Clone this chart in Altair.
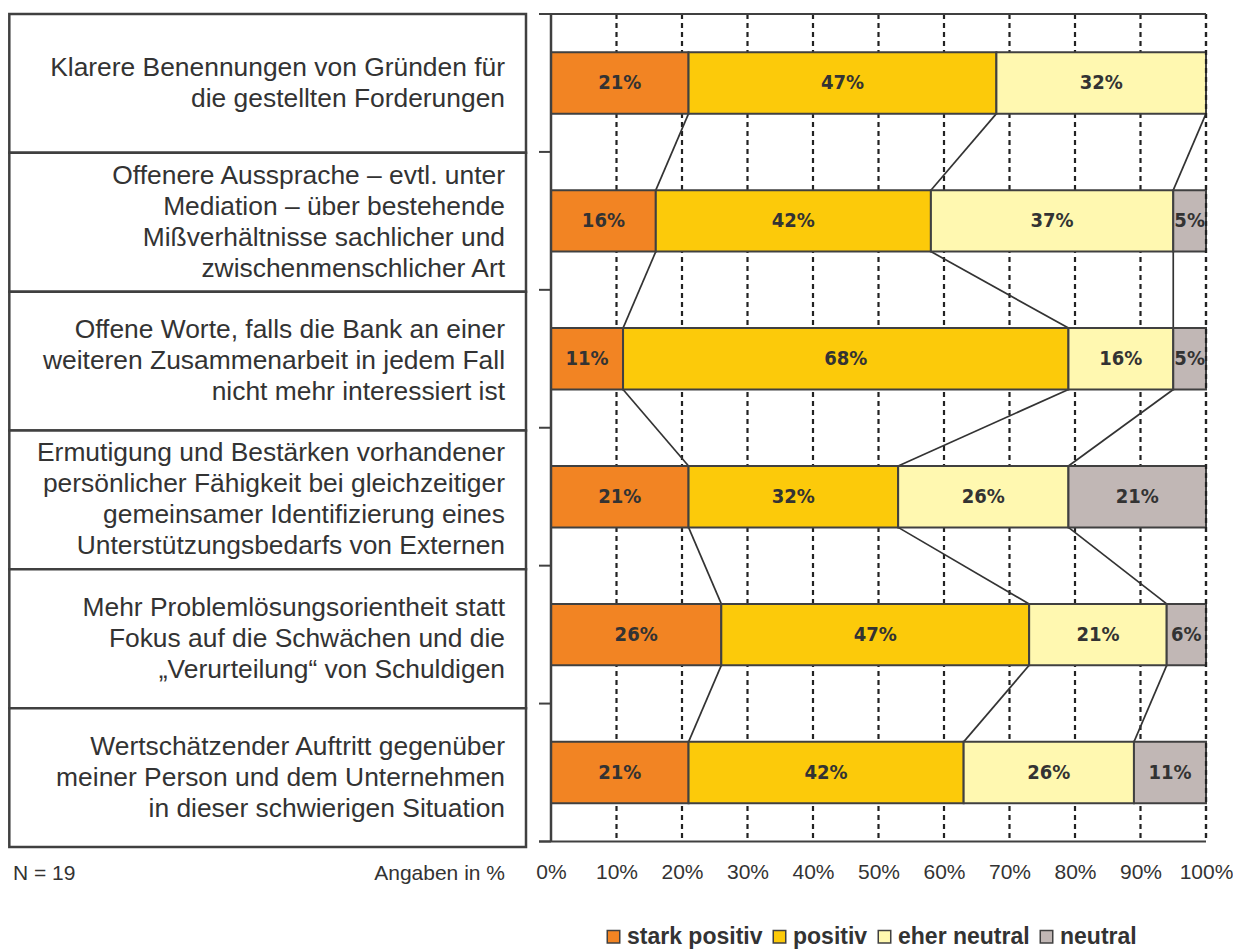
import altair as alt
import pandas as pd

# ---------------- data ----------------
categories = [
    "Klarere Benennungen von Gründen für\ndie gestellten Forderungen",
    "Offenere Aussprache – evtl. unter\nMediation – über bestehende\nMißverhältnisse sachlicher und\nzwischenmenschlicher Art",
    "Offene Worte, falls die Bank an einer\nweiteren Zusammenarbeit in jedem Fall\nnicht mehr interessiert ist",
    "Ermutigung und Bestärken vorhandener\npersönlicher Fähigkeit bei gleichzeitiger\ngemeinsamer Identifizierung eines\nUnterstützungsbedarfs von Externen",
    "Mehr Problemlösungsorientheit statt\nFokus auf die Schwächen und die\n„Verurteilung“ von Schuldigen",
    "Wertschätzender Auftritt gegenüber\nmeiner Person und dem Unternehmen\nin dieser schwierigen Situation",
]
series = ["stark positiv", "positiv", "eher neutral", "neutral"]
stark_positiv = [21, 16, 11, 21, 26, 21]
positiv = [47, 42, 68, 32, 47, 42]
eher_neutral = [32, 37, 16, 26, 21, 26]
neutral = [0, 5, 5, 21, 6, 11]
colors = ["#F28423", "#FCCA0A", "#FFF8B0", "#C1B7B5"]
x_ticks = [0, 10, 20, 30, 40, 50, 60, 70, 80, 90, 100]
note_left = "N = 19"
note_right = "Angaben in %"

# ---------------- layout constants ----------------
PX = 6.55                     # pixels per percent
BAND_PX = 137.9               # pixels per row band
X0_PX = 551 - 8               # pixel offset of 0% from plot left
X_MIN = -X0_PX / PX
BAR_H = 0.445
ROW_SCALE = 6.04 / 6
TICK_LEN = 12 / PX
BOX_L = X_MIN + 0.2
BOX_R = (526 - 551) / PX
TXT_X = (505 - 551) / PX
NOTE_Y = (873 - 12.7) / BAND_PX
N_X = (13 - 551) / PX
LABEL_FS = 26.4
LABEL_LH = 31

DARK = "#404040"
TXT = "#333333"
FONT = "Liberation Sans"
NARROW = "Liberation Sans Narrow, Arial Narrow, DejaVu Sans Condensed, Liberation Sans"

all_vals = [stark_positiv, positiv, eher_neutral, neutral]

# bars
bar_rows = []
for i in range(len(categories)):
    start = 0
    for s, vals in zip(series, all_vals):
        v = vals[i]
        if v > 0:
            bar_rows.append(dict(series=s, x=start, x2=start + v, mid=start + v / 2,
                                 y=i + 0.5 - BAR_H / 2, y2=i + 0.5 + BAR_H / 2,
                                 ym=i + 0.5, label=f"{v}%"))
        start += v
bars_df = pd.DataFrame(bar_rows)

# connectors
conn_rows = []
for i in range(len(categories) - 1):
    c1 = c2 = 0
    for k in range(3):
        c1 += all_vals[k][i]
        c2 += all_vals[k][i + 1]
        conn_rows.append(dict(x=c1, x2=c2, y=i + 0.5 + BAR_H / 2, y2=i + 1.5 - BAR_H / 2))
conn_df = pd.DataFrame(conn_rows)

# label boxes
box_rows = []
for i, c in enumerate(categories):
    n = c.count("\n") + 1
    box_rows.append(dict(x=BOX_L, x2=BOX_R, y=i * ROW_SCALE, y2=(i + 1) * ROW_SCALE,
                         ym=(i + 0.5) * ROW_SCALE - (n - 1) / 2 * LABEL_LH / BAND_PX,
                         tx=TXT_X, label=c))
box_df = pd.DataFrame(box_rows)

grid_df = pd.DataFrame([dict(x=t, y=0, y2=6) for t in x_ticks[1:]])
tick_df = pd.DataFrame([dict(x=-TICK_LEN, x2=0, y=b) for b in range(7)])
frame_df = pd.DataFrame([dict(x=-TICK_LEN, x2=100, y=0), dict(x=-TICK_LEN, x2=100, y=6)])
axisline_df = pd.DataFrame([dict(x=0, y=0, y2=6)])
note_l_df = pd.DataFrame([dict(x=N_X, y=NOTE_Y, t=note_left)])
note_r_df = pd.DataFrame([dict(x=TXT_X, y=NOTE_Y, t=note_right)])

XS = alt.Scale(domain=[X_MIN, 100], nice=False, zero=False)
YS = alt.Scale(domain=[0, 6.04], nice=False, zero=False, reverse=True)
XAX = alt.Axis(values=x_ticks, labelExpr="datum.value + '%'", domain=False, ticks=False,
               tickSize=0, grid=False, title=None, labelFontSize=21, labelFont=FONT,
               labelColor=TXT, labelPadding=14, labelFlush=False, labelOverlap=False)


def X(f):
    return alt.X(f, type="quantitative", scale=XS, axis=XAX)


def Y(f):
    return alt.Y(f, type="quantitative", scale=YS, axis=None)


boxes = alt.Chart(box_df).mark_rect(fill="white", stroke=DARK, strokeWidth=2.5).encode(
    x=X("x"), x2="x2", y=Y("y"), y2="y2")
box_text = alt.Chart(box_df).mark_text(align="right", baseline="middle", lineBreak="\n",
                                       fontSize=LABEL_FS, lineHeight=LABEL_LH, color=TXT,
                                       font=FONT).encode(
    x=X("tx"), y=Y("ym"), text="label:N")

grid = alt.Chart(grid_df).mark_rule(color="#222222", strokeWidth=2.2, strokeDash=[5, 4]).encode(
    x=X("x"), y=Y("y"), y2="y2")
grid_top = alt.Chart(grid_df[grid_df["x"] == 100]).mark_rule(
    color="#222222", strokeWidth=2.2, strokeDash=[5, 4]).encode(x=X("x"), y=Y("y"), y2="y2")
ticks = alt.Chart(tick_df).mark_rule(color=DARK, strokeWidth=2).encode(
    x=X("x"), x2="x2", y=Y("y"))
frame = alt.Chart(frame_df).mark_rule(color=DARK, strokeWidth=2).encode(
    x=X("x"), x2="x2", y=Y("y"))
axis_line = alt.Chart(axisline_df).mark_rule(color=DARK, strokeWidth=2.5).encode(
    x=X("x"), y=Y("y"), y2="y2")
connectors = alt.Chart(conn_df).mark_rule(color="#333333", strokeWidth=1.7).encode(
    x=X("x"), x2="x2", y=Y("y"), y2="y2")

bars = alt.Chart(bars_df).mark_rect(stroke=DARK, strokeWidth=2).encode(
    x=X("x"), x2="x2", y=Y("y"), y2="y2",
    color=alt.Color("series:N", scale=alt.Scale(domain=series, range=colors),
                    legend=alt.Legend(orient="none", legendX=594, legendY=911,
                                      direction="horizontal", columns=4, title=None,
                                      symbolType="square", symbolSize=156,
                                      symbolStrokeColor=DARK, symbolStrokeWidth=1.5,
                                      symbolOpacity=1,
                                      labelFontSize=23, labelFontWeight="bold",
                                      labelFont=FONT, labelColor=TXT, labelOffset=2,
                                      columnPadding=5, padding=0)))
bar_text = alt.Chart(bars_df).mark_text(font=NARROW, fontWeight="bold",
                                        fontSize=20, color=TXT, baseline="middle").encode(
    x=X("mid"), y=Y("ym"), text="label:N")

note_l = alt.Chart(note_l_df).mark_text(fontSize=21, font=FONT, color=TXT, baseline="middle",
                                        align="left").encode(x=X("x"), y=Y("y"), text="t:N")
note_r = alt.Chart(note_r_df).mark_text(fontSize=21, font=FONT, color=TXT, baseline="middle",
                                        align="right").encode(x=X("x"), y=Y("y"), text="t:N")

chart = alt.layer(boxes, box_text, grid, connectors, bars, grid_top, ticks, frame, axis_line,
                  bar_text, note_l, note_r).properties(
    width=1198, height=833,
    padding={"left": 0, "top": 4, "right": 0, "bottom": 0},
).configure_view(stroke=None)

chart.save("out.html", embed_options={"renderer": "svg", "actions": False})
